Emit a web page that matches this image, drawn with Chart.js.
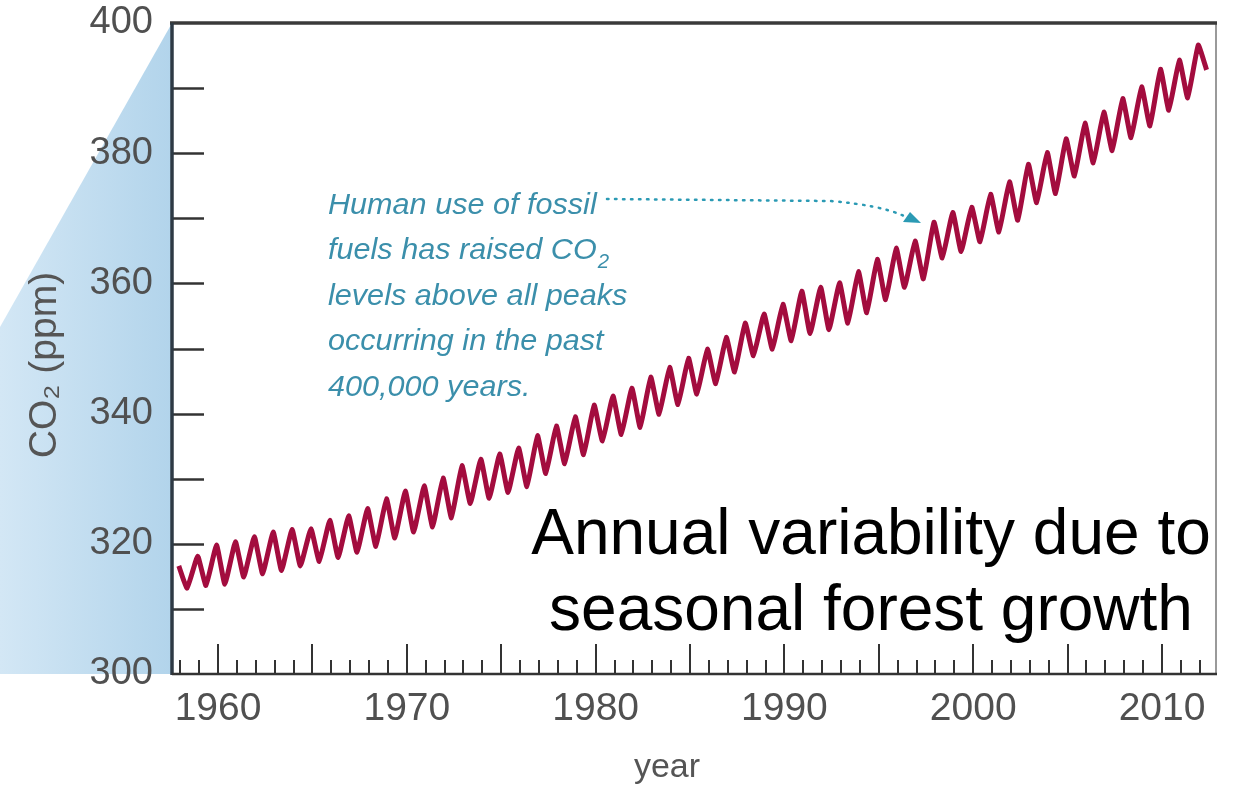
<!DOCTYPE html>
<html><head><meta charset="utf-8">
<script src="https://cdn.jsdelivr.net/npm/chart.js@4.4.1/dist/chart.umd.min.js"></script>
<style>html,body{margin:0;padding:0;background:#fff;overflow:hidden}#wrap{width:1236px;height:792px;position:relative}</style>
</head><body><div id="wrap"><canvas id="c" width="1236" height="792"></canvas></div>
<script>
// ---- data ----
const years = [1958,1959,1960,1961,1962,1963,1964,1965,1966,1967,1968,1969,1970,1971,1972,1973,1974,1975,1976,1977,1978,1979,1980,1981,1982,1983,1984,1985,1986,1987,1988,1989,1990,1991,1992,1993,1994,1995,1996,1997,1998,1999,2000,2001,2002,2003,2004,2005,2006,2007,2008,2009,2010,2011,2012];
const peakPpm = [316.6,318.1,319.8,320.3,321.1,321.8,322.2,322.3,323.6,324.3,325.4,326.9,328.1,328.9,330.1,332.0,333.0,333.8,334.7,336.6,338.1,339.5,341.3,342.7,343.9,345.6,347.1,348.5,349.9,351.7,353.9,355.3,356.8,358.8,359.4,360.1,361.8,363.7,365.4,366.5,369.4,370.9,371.7,373.7,375.6,378.3,380.1,382.2,384.6,386.3,388.4,390.2,392.9,394.3,396.6];
const lowPpm  = [313.2,313.6,313.8,314.9,315.4,315.9,316.6,317.3,317.9,318.7,319.6,320.9,321.8,322.6,324.0,326.2,327.0,327.9,328.8,330.8,332.3,333.7,335.8,336.8,337.9,339.9,341.4,343.0,344.6,346.4,348.9,349.9,351.2,352.3,352.9,353.9,355.5,357.5,359.4,360.7,363.9,364.9,366.4,367.9,369.7,372.4,373.8,376.5,378.5,380.4,382.4,384.2,386.6,388.5,392.8];
const yTickLabels = [300,320,340,360,380,400];
const xTickLabels = [1960,1970,1980,1990,2000,2010];
const yAxisTitle = 'CO₂ (ppm)';
const xAxisTitle = 'year';
const noteLines = ['Human use of fossil','fuels has raised CO','levels above all peaks','occurring in the past','400,000 years.'];
const bigLines = ['Annual variability due to','seasonal forest growth'];

// ---- layout / style constants ----
const PEAK_OFFSET = -0.08, LOW_OFFSET = 0.36;
const FONT = '"Liberation Sans", Arial, sans-serif';

const pts = [];
years.forEach((yr, i) => {
  pts.push({x: yr + PEAK_OFFSET, y: peakPpm[i]});
  pts.push({x: yr + LOW_OFFSET, y: lowPpm[i]});
});

const decor = {
  id: 'decor',
  beforeDraw(chart) {
    const {ctx, chartArea: a} = chart;
    ctx.save();
    const g = ctx.createLinearGradient(0, 0, a.left, 0);
    g.addColorStop(0, '#d3e7f5');
    g.addColorStop(1, '#b2d4eb');
    ctx.fillStyle = g;
    ctx.beginPath();
    ctx.moveTo(a.left, a.top);
    ctx.lineTo(0, 327);
    ctx.lineTo(0, a.bottom);
    ctx.lineTo(a.left, a.bottom);
    ctx.closePath();
    ctx.fill();
    ctx.restore();
  },
  afterDraw(chart) {
    const {ctx, chartArea: a, scales: {x, y}} = chart;
    ctx.save();
    // tick marks inside plot
    ctx.strokeStyle = '#333';
    ctx.lineWidth = 2.5;
    for (let v = 310; v <= 390; v += 10) {
      const py = Math.round(y.getPixelForValue(v)) + 0.5;
      ctx.beginPath(); ctx.moveTo(a.left, py); ctx.lineTo(a.left + 32, py); ctx.stroke();
    }
    ctx.lineWidth = 2;
    for (let yr = 1958; yr <= 2012; yr++) {
      const px = Math.round(x.getPixelForValue(yr));
      const h = yr % 5 === 0 ? 30 : 14;
      ctx.beginPath(); ctx.moveTo(px, a.bottom); ctx.lineTo(px, a.bottom - h); ctx.stroke();
    }
    // frame
    ctx.strokeStyle = '#9a9a9a'; ctx.lineWidth = 2;
    ctx.beginPath(); ctx.moveTo(a.right, a.top); ctx.lineTo(a.right, a.bottom); ctx.stroke();
    ctx.strokeStyle = '#3a3a3a'; ctx.lineWidth = 3.5;
    ctx.beginPath(); ctx.moveTo(a.left - 2, a.top); ctx.lineTo(a.right + 1, a.top); ctx.stroke();
    ctx.strokeStyle = '#2e3a45';
    ctx.beginPath(); ctx.moveTo(a.left, a.top); ctx.lineTo(a.left, a.bottom + 1); ctx.stroke();
    ctx.strokeStyle = '#333'; ctx.lineWidth = 2.5;
    ctx.beginPath(); ctx.moveTo(a.left, a.bottom); ctx.lineTo(a.right + 1, a.bottom); ctx.stroke();

    // axis titles
    ctx.fillStyle = '#555';
    ctx.textAlign = 'center'; ctx.textBaseline = 'middle';
    ctx.font = '34px ' + FONT;
    ctx.fillText(xAxisTitle, 667, 768);
    ctx.save();
    ctx.translate(45, 365); ctx.rotate(-Math.PI / 2);
    ctx.font = '39px ' + FONT;
    ctx.fillText(yAxisTitle, 0, 0);
    ctx.restore();

    // annotation note
    ctx.fillStyle = '#3b8fab';
    ctx.textAlign = 'left'; ctx.textBaseline = 'alphabetic';
    ctx.font = 'italic 30px ' + FONT;
    const baseY = [214, 259, 305, 350, 396];
    noteLines.forEach((t, i) => {
      ctx.save(); ctx.translate(328, baseY[i]); ctx.scale(1.02, 1);
      ctx.fillText(t, 0, 0);
      if (i === 1) {
        const w = ctx.measureText(t).width;
        ctx.font = 'italic 20px ' + FONT;
        ctx.fillText('2', w + 1, 9);
        ctx.font = 'italic 30px ' + FONT;
      }
      ctx.restore();
    });
    // dotted arrow
    ctx.strokeStyle = '#2b9ab4'; ctx.lineWidth = 2.5; ctx.lineCap = 'round';
    ctx.setLineDash([1.5, 6.5]);
    ctx.beginPath();
    ctx.moveTo(607, 199);
    ctx.lineTo(830, 201);
    ctx.quadraticCurveTo(880, 205, 904, 216);
    ctx.stroke();
    ctx.setLineDash([]);
    ctx.fillStyle = '#2b9ab4';
    ctx.beginPath();
    ctx.moveTo(921, 223); ctx.lineTo(903, 222); ctx.lineTo(910, 212); ctx.closePath(); ctx.fill();

    // big caption
    ctx.fillStyle = '#000';
    ctx.textAlign = 'center';
    ctx.font = '64px ' + FONT;
    ctx.fillText(bigLines[0], 871, 554);
    ctx.fillText(bigLines[1], 871, 630);
    ctx.restore();
  }
};

new Chart(document.getElementById('c'), {
  type: 'line',
  data: {datasets: [{
    data: pts, borderColor: '#a30c3e', borderWidth: 5, pointRadius: 0,
    tension: 0.12, fill: false, borderJoinStyle: 'round'
  }]},
  plugins: [decor],
  options: {
    responsive: false, animation: false, devicePixelRatio: 1,
    layout: {padding: {top: 23, right: 20, left: 0, bottom: 0}},
    plugins: {legend: {display: false}, tooltip: {enabled: false}},
    scales: {
      x: {
        type: 'linear', min: 1957.56, max: 2012.86,
        afterFit: s => { s.height = 118; s.paddingLeft = 0; s.paddingRight = 0; },
        afterBuildTicks: s => { s.ticks = xTickLabels.map(v => ({value: v})); },
        grid: {display: false, drawTicks: false}, border: {display: false},
        ticks: {font: {size: 39, family: FONT}, color: '#505050', padding: 12, maxRotation: 0, autoSkip: false, callback: v => String(v)}
      },
      y: {
        min: 300, max: 400,
        afterFit: s => { s.width = 172; s.paddingTop = 0; s.paddingBottom = 0; },
        afterBuildTicks: s => { s.ticks = yTickLabels.map(v => ({value: v})); },
        grid: {display: false, drawTicks: false}, border: {display: false},
        ticks: {font: {size: 38, family: FONT}, color: '#505050', padding: 19, callback: v => String(v)}
      }
    }
  }
});
</script></body></html>
